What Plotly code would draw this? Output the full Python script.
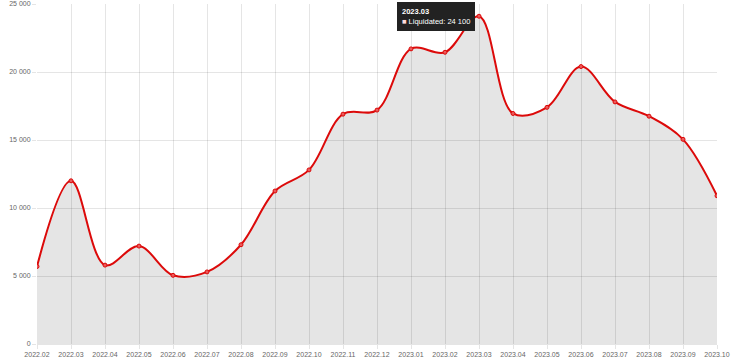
import plotly.graph_objects as go

categories = ["2022.02", "2022.03", "2022.04", "2022.05", "2022.06", "2022.07", "2022.08",
              "2022.09", "2022.10", "2022.11", "2022.12", "2023.01", "2023.02", "2023.03",
              "2023.04", "2023.05", "2023.06", "2023.07", "2023.08", "2023.09", "2023.10"]
liquidated = [5700, 12000, 5800, 7200, 5050, 5300, 7300,
              11250, 12800, 16900, 17200, 21700, 21450, 24100,
              16950, 17400, 20400, 17800, 16750, 15050, 10900]
y_ticks = [0, 5000, 10000, 15000, 20000, 25000]
series_name = "Liquidated"
hover_index = 13

grid = "rgba(0,0,0,0.1)"
font_fam = "Liberation Sans, Arial, sans-serif"

fig = go.Figure()
fig.add_trace(go.Scatter(
    x=categories, y=liquidated, mode="lines+markers", name=series_name,
    line=dict(color="rgb(220,10,10)", width=2, shape="spline", smoothing=1.0),
    marker=dict(size=4, color="rgb(235,90,90)", line=dict(color="rgb(220,10,10)", width=1)),
    fill="tozeroy", fillcolor="rgba(0,0,0,0.1)", hoverinfo="skip",
))

value_txt = f"{liquidated[hover_index]:,}".replace(",", " ")
fig.add_annotation(
    x=hover_index, y=liquidated[hover_index], xref="x", yref="y",
    text="<b>" + categories[hover_index] + "</b><br><span style='color:#ffdcdc'>■</span> "
         + series_name + ": " + value_txt,
    showarrow=False, xanchor="right", yanchor="middle", xshift=-4, yshift=0,
    align="left", bgcolor="#222222", bordercolor="#222222", borderpad=4,
    font=dict(color="#ffffff", size=7.5, family=font_fam),
)

fig.update_layout(
    width=740, height=363, margin=dict(l=37, r=23, t=4, b=19, autoexpand=False),
    paper_bgcolor="white", plot_bgcolor="white", showlegend=False,
    separators=". ",
    font=dict(family=font_fam, size=7, color="#666"),
    xaxis=dict(type="category", showgrid=True, gridcolor=grid, gridwidth=1,
               ticks="outside", ticklen=4, tickcolor=grid, showline=False,
               range=[0, len(categories) - 1], tickfont=dict(size=7, color="#666"),
               fixedrange=True, automargin=False),
    yaxis=dict(range=[0, 25000], tickvals=y_ticks, tickformat=",", showgrid=True,
               gridcolor=grid, gridwidth=1, zeroline=True, zerolinecolor=grid, zerolinewidth=1,
               ticks="outside", ticklen=4, tickcolor=grid, showline=False,
               tickfont=dict(size=7, color="#666"), fixedrange=True, automargin=False),
)

fig.write_html("out.html", config={"displayModeBar": False},
               post_script="document.body.style.margin='0';")
